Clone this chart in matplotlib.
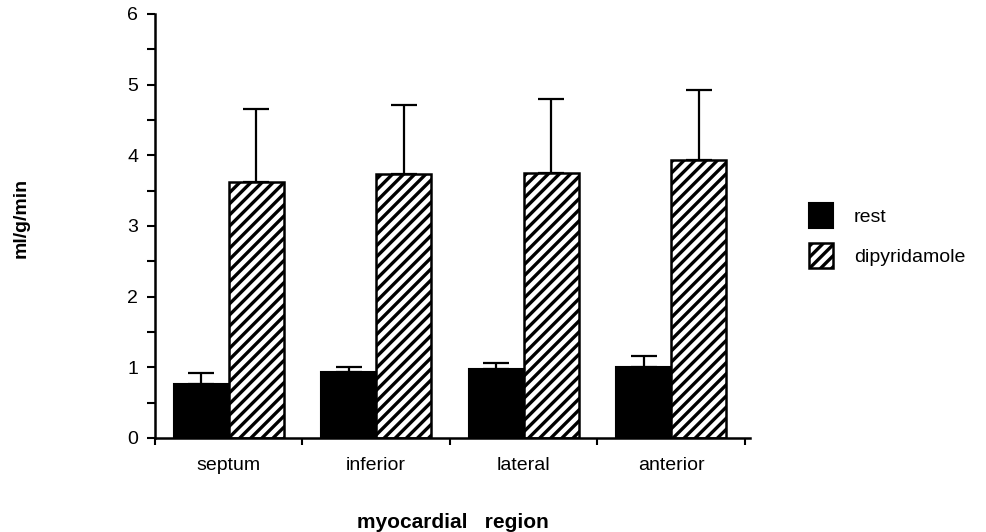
import numpy as np
import matplotlib
matplotlib.use("Agg")
import matplotlib.pyplot as plt

plt.rcParams['font.family'] = ['Liberation Sans', 'DejaVu Sans']
plt.rcParams['hatch.linewidth'] = 2.4

# data
regions = ["septum", "inferior", "lateral", "anterior"]
rest = [0.76, 0.93, 0.98, 1.00]
rest_err = [0.16, 0.08, 0.08, 0.16]
dipyridamole = [3.62, 3.73, 3.75, 3.93]
dipyridamole_err = [1.04, 0.98, 1.05, 0.99]

fig = plt.figure(figsize=(9.87, 5.32), dpi=100)
ax = fig.add_axes([0.157, 0.1767, 0.603, 0.797])

x = np.arange(len(regions)) + 0.5
w = 0.372

ax.bar(x - w / 2, rest, w, color="black", edgecolor="black", linewidth=1.5,
       label="rest", zorder=2)
ax.bar(x + w / 2, dipyridamole, w, color="white", edgecolor="black",
       hatch="///", linewidth=1.8, label="dipyridamole", zorder=2)

# upper error bars only
ax.errorbar(x - w / 2, rest, yerr=[np.zeros(4), rest_err], fmt="none",
            ecolor="black", elinewidth=1.6, capsize=9.5, capthick=1.6, zorder=1)
ax.errorbar(x + w / 2, dipyridamole, yerr=[np.zeros(4), dipyridamole_err],
            fmt="none", ecolor="black", elinewidth=1.6, capsize=9.5,
            capthick=1.6, zorder=1)

ax.set_xlim(0, 4.035)
ax.set_ylim(0, 6)

ax.spines["top"].set_visible(False)
ax.spines["right"].set_visible(False)
ax.spines["left"].set_linewidth(1.8)
ax.spines["bottom"].set_linewidth(1.8)

ax.set_yticks(range(7))
ax.set_yticks(np.arange(0.5, 6, 1.0), minor=True)
ax.tick_params(axis="y", which="both", direction="out", length=6, width=1.5,
               labelsize=14, pad=6)

ax.set_xticks(range(5))
ax.set_xticklabels([])
ax.set_xticks(x, minor=True)
ax.set_xticklabels(regions, minor=True)
ax.tick_params(axis="x", which="major", direction="out", length=5, width=1.5)
ax.tick_params(axis="x", which="minor", length=0, labelsize=14, pad=14)

ax.set_xlabel("myocardial   region", fontsize=15, fontweight="bold", labelpad=28)
ax.set_ylabel("ml/g/min", fontsize=14, fontweight="bold")
ax.yaxis.set_label_coords(-0.211, 0.52)

ax.legend(loc="upper left", bbox_to_anchor=(1.07, 0.595), frameon=False,
          fontsize=14, handlelength=1.2, handleheight=1.6, handletextpad=1.1,
          labelspacing=0.75)

fig.savefig("out.png", dpi=100)
